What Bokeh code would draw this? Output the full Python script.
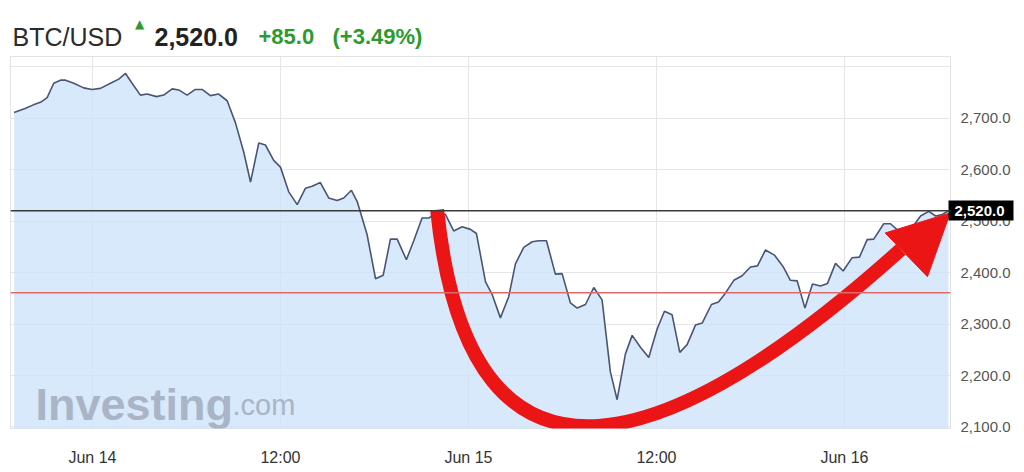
from bokeh.plotting import figure
from bokeh.layouts import column
from bokeh.models import FixedTicker, LinearAxis, Range1d, Span, NumeralTickFormatter
from bokeh.core.properties import value
from bokeh.embed import file_html
from bokeh.resources import INLINE

# ---- data (hours relative to Jun 14 00:00, BTC/USD price) ----
hours = [-5.0, -4.3, -3.77, -3.32, -2.89, -2.47, -2.04, -1.72, -1.19, -0.56,
         -0.02, 0.51, 1.15, 1.68, 2.11, 2.53, 3.06, 3.49, 4.09, 4.55,
         5.09, 5.51, 6.04, 6.57, 7.0, 7.53, 8.06, 8.6, 9.13, 9.66,
         10.09, 10.62, 11.04, 11.57, 12.0, 12.53, 13.07, 13.6, 14.02, 14.55,
         15.08, 15.62, 16.04, 16.53, 16.9, 17.53, 18.07, 18.56, 19.02, 19.45,
         20.04, 20.51, 21.04, 21.47, 22.0, 22.53, 23.06, 23.6, 24.13, 24.51,
         25.09, 25.52, 26.04, 26.57, 27.0, 27.53, 28.07, 28.49, 28.98, 29.55,
         29.98, 30.51, 30.94, 31.47, 32.0, 32.53, 33.06, 33.49, 34.02, 34.45,
         34.98, 35.51, 36.04, 36.51, 37.0, 37.49, 37.96, 38.49, 38.92, 39.51,
         39.96, 40.4, 40.94, 41.47, 42.0, 42.45, 42.96, 43.53, 44.08, 44.55,
         44.98, 45.48, 45.96, 46.47, 46.92, 47.43, 47.92, 48.49, 48.96, 49.45,
         49.87, 50.51, 50.94, 51.45, 51.96, 52.41, 52.86, 53.39, 53.82, 54.24,
         54.64]
price = [2711, 2719, 2726, 2731, 2740, 2768, 2774, 2774, 2768, 2759,
         2756, 2758, 2768, 2776, 2787, 2768, 2745, 2747, 2742, 2745,
         2757, 2755, 2745, 2756, 2756, 2744, 2747, 2734, 2691, 2634,
         2576, 2652, 2648, 2618, 2605, 2557, 2532, 2564, 2568, 2575,
         2545, 2540, 2545, 2560, 2538, 2474, 2388, 2395, 2465, 2465,
         2425, 2462, 2506, 2506, 2518, 2513, 2481, 2489, 2484, 2476,
         2382, 2357, 2312, 2353, 2417, 2449, 2460, 2462, 2462, 2397,
         2398, 2341, 2331, 2338, 2371, 2347, 2207, 2153, 2242, 2278,
         2255, 2235, 2290, 2325, 2318, 2245, 2260, 2298, 2302, 2338,
         2343, 2360, 2385, 2394, 2411, 2413, 2444, 2434, 2412, 2385,
         2384, 2331, 2378, 2374, 2379, 2418, 2403, 2429, 2430, 2464,
         2465, 2495, 2495, 2481, 2476, 2491, 2510, 2519, 2510, 2513,
         2520]
symbol = "BTC/USD"
last_price = 2520.0
change = "+85.0"
change_pct = "(+3.49%)"
ref_price = 2361.0
x_ticks = [0, 12, 24, 36, 48]
x_tick_labels = ["Jun 14", "12:00", "Jun 15", "12:00", "Jun 16"]
y_ticks = [2100, 2200, 2300, 2400, 2500, 2600, 2700]
y_grid_ticks = [2100, 2200, 2300, 2400, 2500, 2600, 2700, 2800]

# hand-drawn red annotation (cubic curve + arrow head), in data units
curve_x = [22.0, 24.13, 37.53, 51.6]
curve_y = [2522.0, 1890.0, 2060.0, 2445.0]
head_x = [54.75, 50.6, 53.3]
head_y = [2516.0, 2477.0, 2392.0]

FONT = "Liberation Sans"
GREEN = "#2e9a2e"
W = 1016
LB, RB = 10, 66

# ---------------- header ----------------
h = figure(width=W, height=56, output_backend="svg", toolbar_location=None,
           x_range=Range1d(LB, W - RB), y_range=Range1d(0, 56),
           min_border_left=LB, min_border_right=RB, min_border_top=0, min_border_bottom=0,
           outline_line_color=None)
h.axis.visible = False
h.grid.visible = False
h.background_fill_color = "white"
h.border_fill_color = "white"
base = 20
h.text(x=[12], y=[base], text=[symbol], text_font=value(FONT), text_font_size="25px",
       text_color="#2b2b2b", text_baseline="alphabetic")
h.text(x=[139], y=[33], text=["\u25b2"], text_font=value("DejaVu Sans"), text_font_size="12px",
       text_color=GREEN, text_align="center", text_baseline="middle")
h.text(x=[154], y=[base], text=["{:,.1f}".format(last_price)], text_font=value(FONT),
       text_font_size="25px", text_font_style="bold", text_color="#222222",
       text_baseline="alphabetic")
h.text(x=[258], y=[base], text=[change], text_font=value(FONT), text_font_size="22px",
       text_font_style="bold", text_color=GREEN, text_baseline="alphabetic")
h.text(x=[332], y=[base], text=[change_pct], text_font=value(FONT), text_font_size="22px",
       text_font_style="bold", text_color=GREEN, text_baseline="alphabetic")

# ---------------- main chart ----------------
p = figure(width=W, height=412, output_backend="svg", toolbar_location=None,
           x_range=Range1d(-5.23, 54.77), y_range=Range1d(2097, 2820),
           y_axis_location="right", min_border_left=LB, min_border_right=RB,
           min_border_top=0, min_border_bottom=34)
p.background_fill_color = "white"
p.border_fill_color = "white"
p.outline_line_color = "#e2e2e2"

p.xaxis.ticker = FixedTicker(ticks=x_ticks)
p.xaxis.major_label_overrides = {t: l for t, l in zip(x_ticks, x_tick_labels)}
p.yaxis.ticker = FixedTicker(ticks=y_ticks)
p.yaxis.formatter = NumeralTickFormatter(format="0,0.0")
for ax in (p.xaxis, p.yaxis):
    ax.axis_line_color = None
    ax.major_tick_line_color = None
    ax.minor_tick_line_color = None
    ax.major_label_text_font = FONT
p.xaxis.major_label_text_font_size = "16px"
p.xaxis.major_label_text_color = "#333333"
p.xaxis.major_label_standoff = 14
p.yaxis.major_label_text_font_size = "15px"
p.yaxis.major_label_text_color = "#555555"
p.yaxis.major_label_standoff = 4

# current-price tag: an outer right axis whose single tick is a thick black bar
tag_axis = LinearAxis(ticker=FixedTicker(ticks=[last_price]),
                      formatter=NumeralTickFormatter(format="0,0.0"),
                      axis_line_color=None, minor_tick_line_color=None,
                      major_tick_in=65, major_tick_out=0,
                      major_tick_line_width=20, major_tick_line_color="black",
                      major_label_standoff=-59, major_label_text_color="white",
                      major_label_text_font=FONT, major_label_text_font_style="bold",
                      major_label_text_font_size="15px")
p.add_layout(tag_axis, "right")

p.xgrid.ticker = FixedTicker(ticks=x_ticks)
p.ygrid.ticker = FixedTicker(ticks=y_grid_ticks)
p.grid.grid_line_color = "#e6e6e6"
p.grid.grid_line_width = 1

p.varea(x=hours, y1=[1900] * len(hours), y2=price, fill_color="#c9e1fa", fill_alpha=0.75)

p.text(x=[-3.64], y=[2143], text=["Investing"], text_font=value("Liberation Sans"),
       text_font_style="bold", text_font_size="45px", text_color="#a9b5c6",
       text_baseline="alphabetic")
p.text(x=[8.94], y=[2143], text=[".com"], text_font=value("Liberation Sans"),
       text_font_size="29px", text_color="#a9b5c6", text_baseline="alphabetic")

p.add_layout(Span(location=ref_price, dimension="width", line_color="#e06a6a", line_width=1.5))
p.add_layout(Span(location=last_price, dimension="width", line_color="#3a3a3a", line_width=1.5))

p.line(hours, price, line_color="#4a5574", line_width=1.6)

p.bezier(x0=[curve_x[0]], y0=[curve_y[0]], cx0=[curve_x[1]], cy0=[curve_y[1]],
         cx1=[curve_x[2]], cy1=[curve_y[2]], x1=[curve_x[3]], y1=[curve_y[3]],
         line_color="#ec1515", line_width=14)
p.patch(head_x, head_y, fill_color="#ec1515", line_color="#ec1515", line_width=1)

open("out.html", "w").write(file_html(column(h, p, spacing=0), INLINE))
